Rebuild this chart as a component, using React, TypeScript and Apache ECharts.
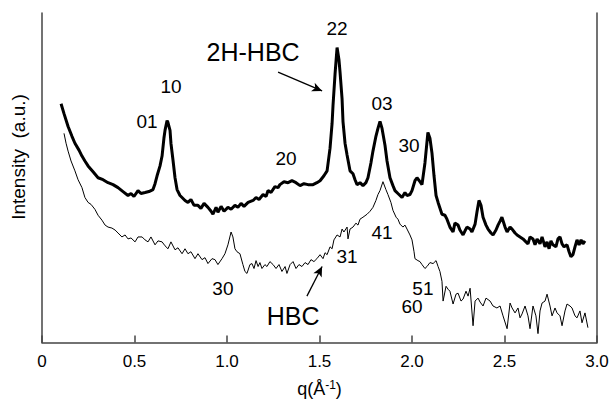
import React, { useEffect, useRef } from "react";
import * as echarts from "echarts";

// 2H-HBC (thick line): q (Å^-1) and intensity (a.u.)
const thickQ = [0.103,0.119,0.141,0.162,0.178,0.2,0.216,0.232,0.249,0.276,0.303,0.33,0.357,0.384,0.411,0.438,0.465,0.481,0.497,0.519,0.535,0.557,0.578,0.6,0.611,0.622,0.638,0.649,0.659,0.665,0.676,0.681,0.692,0.697,0.708,0.719,0.73,0.746,0.757,0.773,0.789,0.805,0.822,0.843,0.859,0.876,0.897,0.914,0.924,0.941,0.951,0.968,0.984,1.005,1.022,1.043,1.059,1.076,1.092,1.114,1.141,1.157,1.173,1.195,1.211,1.222,1.238,1.259,1.276,1.286,1.308,1.33,1.351,1.373,1.395,1.416,1.438,1.465,1.486,1.503,1.524,1.541,1.557,1.568,1.573,1.584,1.595,1.605,1.611,1.622,1.627,1.638,1.649,1.665,1.681,1.692,1.703,1.719,1.735,1.751,1.762,1.778,1.789,1.805,1.816,1.827,1.838,1.854,1.865,1.881,1.897,1.908,1.924,1.946,1.962,1.973,1.989,2.0,2.016,2.027,2.043,2.054,2.07,2.086,2.097,2.108,2.119,2.13,2.141,2.162,2.178,2.189,2.205,2.222,2.232,2.249,2.259,2.276,2.286,2.297,2.314,2.324,2.341,2.351,2.362,2.373,2.384,2.4,2.411,2.427,2.438,2.454,2.465,2.476,2.486,2.503,2.514,2.53,2.541,2.557,2.568,2.584,2.6,2.616,2.627,2.638,2.654,2.665,2.676,2.692,2.703,2.719,2.73,2.741,2.751,2.762,2.778,2.789,2.8,2.811,2.822,2.838,2.849,2.859,2.87,2.881,2.892,2.903,2.914,2.924,2.935];
const thickI = [242,232,219,209,202,195,189,184,179,173,167,165,162,160,157,153,149,151,148,154,151,152,153,155,161,169,179,189,207,215,225,223,215,202,185,167,155,149,147,144,142,145,139,139,136,141,137,133,130,137,132,138,133,137,135,139,137,141,138,142,144,147,145,150,148,154,152,158,157,160,163,162,164,162,159,161,160,160,162,164,169,174,197,222,240,272,299,287,274,247,224,202,190,174,171,165,160,162,159,162,167,182,194,209,217,224,217,200,184,167,159,154,151,147,152,149,150,154,164,167,163,160,182,213,207,192,169,149,142,130,129,125,117,112,121,119,114,109,113,117,115,112,120,132,144,139,127,119,115,111,109,114,119,123,127,117,112,117,115,111,109,107,105,102,100,107,105,99,105,100,107,97,102,95,103,99,97,105,107,100,97,99,92,87,89,97,104,99,104,100,103];

// HBC (thin line)
const thinQ = [0.119,0.13,0.141,0.157,0.178,0.195,0.216,0.232,0.249,0.265,0.286,0.303,0.324,0.341,0.357,0.378,0.395,0.411,0.432,0.449,0.465,0.481,0.503,0.519,0.541,0.557,0.573,0.589,0.611,0.627,0.649,0.665,0.681,0.697,0.719,0.735,0.757,0.773,0.789,0.805,0.827,0.843,0.865,0.881,0.897,0.919,0.935,0.951,0.973,0.989,1.005,1.022,1.032,1.043,1.054,1.07,1.086,1.097,1.108,1.124,1.135,1.146,1.157,1.168,1.178,1.189,1.205,1.216,1.232,1.249,1.265,1.281,1.297,1.314,1.324,1.341,1.357,1.373,1.389,1.405,1.422,1.438,1.454,1.47,1.486,1.503,1.519,1.53,1.541,1.557,1.568,1.578,1.595,1.611,1.622,1.632,1.649,1.654,1.665,1.681,1.697,1.708,1.719,1.735,1.757,1.773,1.789,1.805,1.816,1.827,1.843,1.859,1.87,1.886,1.897,1.914,1.924,1.935,1.951,1.962,1.973,1.989,2.0,2.011,2.016,2.032,2.043,2.054,2.07,2.081,2.097,2.114,2.13,2.141,2.151,2.162,2.168,2.184,2.195,2.205,2.222,2.238,2.249,2.265,2.276,2.292,2.303,2.314,2.33,2.341,2.357,2.368,2.384,2.4,2.422,2.438,2.459,2.476,2.492,2.514,2.53,2.541,2.557,2.573,2.584,2.595,2.611,2.627,2.638,2.654,2.67,2.681,2.692,2.703,2.719,2.73,2.746,2.757,2.773,2.784,2.8,2.811,2.827,2.838,2.854,2.865,2.881,2.892,2.908,2.919,2.935,2.951];
const thinI = [212,202,194,184,174,165,157,147,142,140,135,129,124,119,117,116,114,111,107,109,105,106,102,107,107,104,102,107,99,103,102,98,95,102,94,96,90,95,90,92,85,90,84,86,80,85,84,79,85,90,99,112,107,95,92,90,79,72,70,79,80,75,83,77,81,75,79,77,82,79,75,79,72,77,70,79,82,75,79,77,81,79,84,82,85,89,85,91,89,97,95,104,109,107,115,112,117,105,115,117,121,119,125,127,130,133,137,144,150,154,163,155,150,142,134,127,125,120,117,119,115,109,104,92,85,83,82,79,75,77,81,80,83,77,72,62,42,57,54,52,39,49,50,42,44,52,47,55,17,42,45,41,37,45,42,37,35,37,27,14,40,35,30,35,25,29,37,27,14,37,27,9,32,40,42,49,37,27,35,30,27,17,32,39,37,35,27,25,32,20,30,15];

// Peak annotations
const peakLabels = ["10", "01", "20", "22", "03", "30", "30", "31", "41", "51", "60"];
const peakLabelQ = [0.697, 0.568, 1.319, 1.595, 1.838, 1.984, 0.978, 1.649, 1.838, 2.059, 2.0];
const peakLabelI = [260, 224, 187, 318, 242, 200, 55, 87, 112, 55, 36];

const seriesNames = ["2H-HBC", "HBC"];
const seriesNameQ = [1.141, 1.357];
const seriesNameI = [294, 27];

// arrows: from (q, I) to (q, I)
const arrowFromQ = [1.276, 1.432];
const arrowFromI = [274, 47];
const arrowToQ = [1.514, 1.514];
const arrowToI = [255, 77];

const xTicks = [0, 0.5, 1.0, 1.5, 2.0, 2.5, 3.0];

const FONT = "'Liberation Sans', Arial, Helvetica, sans-serif";

export default function App() {
  const ref = useRef<HTMLDivElement>(null);
  useEffect(() => {
    if (!ref.current) return;
    const chart = echarts.init(ref.current, undefined, { renderer: "svg" });
    const thick = thickQ.map((q, i) => [q, thickI[i]]);
    const thin = thinQ.map((q, i) => [q, thinI[i]]);
    const labelData = peakLabels.map((t, i) => ({ value: [peakLabelQ[i], peakLabelI[i]], name: t }));
    const nameData = seriesNames.map((t, i) => ({ value: [seriesNameQ[i], seriesNameI[i]], name: t }));
    const arrows = arrowFromQ.map((q, i) => [
      { coord: [q, arrowFromI[i]] },
      { coord: [arrowToQ[i], arrowToI[i]] },
    ]);
    chart.setOption({
      animation: false,
      textStyle: { fontFamily: FONT },
      grid: { left: 42, right: 17, top: 13, bottom: 56 },
      xAxis: {
        type: "value",
        min: xTicks[0],
        max: xTicks[xTicks.length - 1],
        interval: 0.5,
        axisLine: { show: true, lineStyle: { color: "#444", width: 1.5 } },
        axisTick: { show: true, inside: true, length: 7, lineStyle: { color: "#444", width: 1.5 } },
        splitLine: { show: false },
        axisLabel: {
          color: "#000",
          fontSize: 17,
          fontFamily: FONT,
          margin: 10,
          formatter: (v: number) => (v === 0 ? "0" : v.toFixed(1)),
        },
        name: "q(Å{sup|-1})",
        nameLocation: "middle",
        nameGap: 36,
        nameTextStyle: {
          color: "#000",
          fontSize: 18,
          fontFamily: FONT,
          rich: { sup: { fontSize: 12, verticalAlign: "top", padding: [0, 0, 9, 0], color: "#000" } },
        },
      },
      yAxis: [
        {
          type: "value",
          min: 0,
          max: 334,
          axisLine: { show: true, lineStyle: { color: "#444", width: 1.5 } },
          axisTick: { show: false },
          axisLabel: { show: false },
          splitLine: { show: false },
        },
        {
          type: "value",
          min: 0,
          max: 334,
          position: "right",
          axisLine: { show: true, lineStyle: { color: "#444", width: 1.5 } },
          axisTick: { show: false },
          axisLabel: { show: false },
          splitLine: { show: false },
        },
      ],
      graphic: [
        {
          type: "text",
          x: 18,
          y: 157,
          rotation: Math.PI / 2,
          style: {
            text: "Intensity  (a.u.)",
            fill: "#000",
            font: `19px ${FONT}`,
            align: "center",
            verticalAlign: "middle",
          },
        },
      ],
      series: [
        {
          type: "line",
          data: thick,
          showSymbol: false,
          lineStyle: { color: "#000", width: 3 },
          z: 3,
          markLine: {
            silent: true,
            symbol: ["none", "arrow"],
            symbolSize: [7, 10],
            lineStyle: { color: "#000", width: 1.3, type: "solid" },
            label: { show: false },
            data: arrows,
          },
        },
        {
          type: "line",
          data: thin,
          showSymbol: false,
          lineStyle: { color: "#000", width: 1 },
          z: 2,
        },
        {
          type: "scatter",
          data: labelData,
          symbolSize: 1,
          itemStyle: { color: "rgba(0,0,0,0)" },
          label: {
            show: true,
            position: "inside",
            formatter: (p: any) => p.name,
            color: "#000",
            opacity: 1,
            fontSize: 19,
            fontFamily: FONT,
          },
          z: 5,
        },
        {
          type: "scatter",
          data: nameData,
          symbolSize: 1,
          itemStyle: { color: "rgba(0,0,0,0)" },
          label: {
            show: true,
            position: "inside",
            formatter: (p: any) => p.name,
            color: "#000",
            opacity: 1,
            fontSize: 25,
            fontFamily: FONT,
          },
          z: 5,
        },
      ],
    });
    return () => chart.dispose();
  }, []);
  return <div ref={ref} style={{ width: 614, height: 403, position: "absolute", left: 0, top: 0 }} />;
}
